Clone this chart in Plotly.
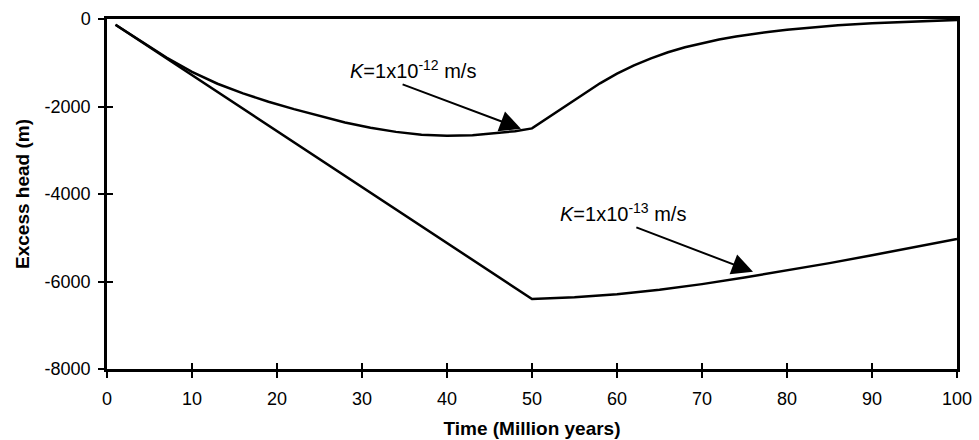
import plotly.graph_objects as go

# Time (Million years)
t_k12 = [1, 4, 7, 10, 13, 16, 19, 22, 25, 28, 31, 34, 37, 40, 43, 46, 48, 50,
         52, 54, 56, 58, 60, 62, 64, 66, 68, 70, 72, 74, 76, 78, 80, 83, 86, 90, 95, 100]
h_k12 = [-130, -510, -880, -1210, -1480, -1700, -1890, -2060, -2220, -2365, -2485,
         -2580, -2645, -2670, -2655, -2610, -2565, -2500,
         -2240, -1980, -1720, -1470, -1250, -1060, -900, -760, -645, -550, -470,
         -400, -340, -290, -245, -190, -145, -95, -50, -20]

t_k13 = [1, 50, 55, 60, 65, 70, 75, 80, 85, 90, 95, 100]
h_k13 = [-130, -6400, -6360, -6290, -6190, -6060, -5910, -5750, -5580, -5400, -5220, -5030]

x_ticks = [0, 10, 20, 30, 40, 50, 60, 70, 80, 90, 100]
y_ticks = [0, -2000, -4000, -6000, -8000]

label_k12 = "<i>K</i>=1x10<sup>-12</sup> m/s"
label_k13 = "<i>K</i>=1x10<sup>-13</sup> m/s"

FONT = "Liberation Sans, Arial, sans-serif"

fig = go.Figure()
for t, h in [(t_k12, h_k12), (t_k13, h_k13)]:
    fig.add_trace(go.Scatter(x=t, y=h, mode="lines", line=dict(color="black", width=2.5),
                             showlegend=False, hoverinfo="skip"))

axis_common = dict(showgrid=False, zeroline=False, showline=True, linecolor="black",
                   linewidth=2.5, mirror=True, ticks="outside", ticklen=6, tickwidth=2,
                   tickcolor="black", tickfont=dict(family=FONT, size=18, color="black"))

fig.update_layout(
    width=979, height=440,
    margin=dict(l=107, r=22, t=19, b=71),
    paper_bgcolor="white", plot_bgcolor="white",
    font=dict(family=FONT, color="black"),
    xaxis=dict(range=[0, 100], tickvals=x_ticks, ticktext=[str(v) for v in x_ticks],
               ticklabelstandoff=6,
               title=dict(text="<b>Time (Million years)</b>", font=dict(family=FONT, size=19),
                          standoff=14),
               automargin=False, **axis_common),
    yaxis=dict(range=[-8000, 0], tickvals=y_ticks, ticktext=[str(v) for v in y_ticks],
               ticklabelstandoff=4,
               title=dict(text="<b>Excess head (m)</b>", font=dict(family=FONT, size=19),
                          standoff=10),
               automargin=False, **axis_common),
    xaxis2=dict(range=[0, 100], overlaying="x", anchor="y", side="bottom",
                tickvals=x_ticks, showticklabels=False, ticks="inside", ticklen=6,
                tickwidth=2, tickcolor="black", showgrid=False, zeroline=False,
                showline=False),
    yaxis2=dict(range=[-8000, 0], overlaying="y", anchor="x", side="left",
                tickvals=y_ticks, showticklabels=False, ticks="inside", ticklen=6,
                tickwidth=2, tickcolor="black", showgrid=False, zeroline=False,
                showline=False),
)

fig.add_trace(go.Scatter(x=[0, 100], y=[-8000, 0], xaxis="x2", yaxis="y2", mode="markers",
                         marker=dict(opacity=0), showlegend=False, hoverinfo="skip"))

# Labels
fig.add_annotation(x=28.3, y=-1160, text=label_k12, showarrow=False, xanchor="left",
                   yanchor="middle", font=dict(family=FONT, size=20, color="black"))
fig.add_annotation(x=53.0, y=-4430, text=label_k13, showarrow=False, xanchor="left",
                   yanchor="middle", font=dict(family=FONT, size=20, color="black"))

# Arrows
fig.add_annotation(x=48.7, y=-2510, ax=34.6, ay=-1480, axref="x", ayref="y", text="",
                   showarrow=True, arrowhead=2, arrowsize=2.1, arrowwidth=2, arrowcolor="black")
fig.add_annotation(x=76.0, y=-5780, ax=62.1, ay=-4750, axref="x", ayref="y", text="",
                   showarrow=True, arrowhead=2, arrowsize=2.1, arrowwidth=2, arrowcolor="black")

fig.write_html("out.html")
